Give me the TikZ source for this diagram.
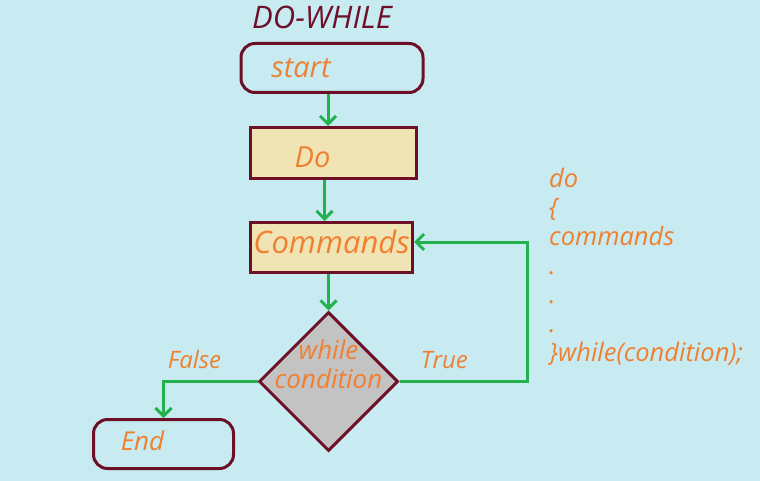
\documentclass[tikz,border=0pt]{standalone}
\usepackage{fontspec}
\setmainfont{Open Sans}
\usetikzlibrary{shapes.geometric,arrows.meta,positioning}
\definecolor{bgblue}{RGB}{200,235,242}
\definecolor{maroon}{RGB}{110,15,40}
\definecolor{txtorange}{RGB}{240,128,48}
\definecolor{flowgreen}{RGB}{34,177,76}
\definecolor{dofill}{RGB}{241,228,180}
\definecolor{condgray}{RGB}{195,195,195}

\begin{document}
\begin{tikzpicture}[x=1pt, y=-1pt,
    lbl/.style={text=txtorange, inner sep=0pt, font={\fontsize{#1}{29}\selectfont\itshape}},
    terminal/.style={draw=maroon, line width=3pt, rounded corners=14pt, minimum width=182pt, minimum height=49pt},
    process/.style={draw=maroon, line width=3pt, fill=dofill},
    decision/.style={diamond, draw=maroon, line width=3pt, fill=condgray, aspect=1, minimum size=139pt, inner sep=0pt},
    flow/.style={draw=flowgreen, line width=3pt, -{Straight Barb[length=8pt,width=16pt]}}]

    \fill[bgblue] (0,0) rectangle (760,481);
    \useasboundingbox (0,0) rectangle (760,481);

    \node (title) at (322,17) [text=maroon, font={\fontsize{31}{32}\selectfont\itshape}] {DO-WHILE};

    \node (start) at (332,68) [terminal, label={[lbl=29, xshift=-31pt]center:start}] {};

    \node (do) at (333.5,153) [process, minimum width=166pt, minimum height=51pt, label={[lbl=29, xshift=-21pt, yshift=-4pt]center:Do}] {};
    \draw[flow] ([xshift=-4pt]start.south) -- ([xshift=-4pt]start.south |- do.north);

    \node (cmd) at (331.5,247.5) [process, minimum width=162pt, minimum height=50pt, label={[lbl=31, yshift=6pt]center:Commands}] {};
    \draw[flow] ([xshift=-9pt]do.south) -- ([xshift=-9pt]do.south |- cmd.north);

    \node (cond) at (328.5,381.5) [decision, label={[lbl=26, align=center, yshift=17pt]center:while\\condition}] {};
    \draw[flow] (cmd.south -| cond.north) -- (cond.north);

    \node (stop) at (163.5,444) [terminal, minimum width=140pt, label={[lbl=26, xshift=-21pt, yshift=3pt]center:End}] {};

    % loop back and exit
    \draw[flow] (cond.east) -- node[lbl=24, pos=0.35, above=11pt] {True} ++(128,0) |- ([yshift=5.5pt]cmd.east);
    \draw[flow] (cond.west) -| node[lbl=24, pos=0.335, above=11pt] {False} (stop.north);

    \node (code) at (549,168) [lbl=25.5, anchor=north west, align=left] {do\\\{\\commands\\.\\.\\.\\\}while(condition);};
  \end{tikzpicture}
\end{document}
